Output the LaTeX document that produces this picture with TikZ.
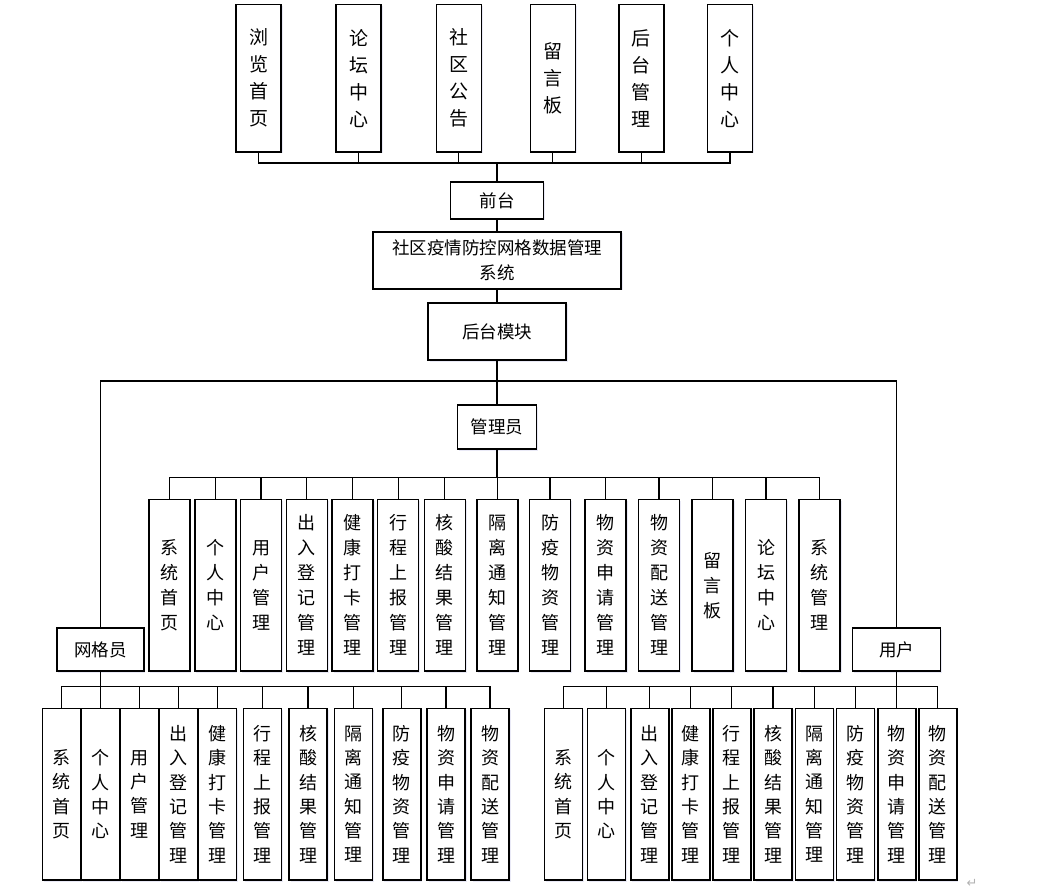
\documentclass[tikz,border=0pt]{standalone}
\usepackage{fontspec}
\setmainfont{Noto Sans CJK SC}
\newfontfamily\symfont{DejaVu Sans}
\usetikzlibrary{shadows}

\tikzset{
  box/.style={draw, line width=1.4pt, fill=white, inner sep=0pt, align=center,
    drop shadow={shadow xshift=1.5pt, shadow yshift=-1.5pt, opacity=0.12, fill=blue!40!gray},
    font=\fontsize{17.5}{24.5}\selectfont},
  topbox/.style={box, minimum width=45pt, minimum height=147.5pt, font=\fontsize{19}{27}\selectfont},
  adbox/.style={box, minimum width=41pt, minimum height=171.7pt, font=\fontsize{18}{25}\selectfont},
  subbox/.style={box, minimum width=38pt, minimum height=171.7pt, font=\fontsize{18}{24.3}\selectfont},
  link/.style={line width=1.3pt}
}

\begin{document}
\begin{tikzpicture}[x=1pt, y=-1pt]
  \useasboundingbox (0,0) rectangle (1043,890);

  % front end pages
  \foreach \x/\txt [count=\i] in {258.5/{浏\\览\\首\\页}, 358.5/{论\\坛\\中\\心},
      458.8/{社\\区\\公\\告}, 552.8/{留\\言\\板}, 641.3/{后\\台\\管\\理}, 730/{个\\人\\中\\心}} {
    \node[topbox] (t\i) at (\x,78.2) {\txt};
  }
  \node[box, minimum width=93pt, minimum height=37pt] (qt) at (497,200.5) {前台};
  \coordinate (busT) at (497,163);
  \foreach \i in {1,...,6} {
    \draw[link] (t\i.south) |- (busT);
  }
  \draw[link] (busT) -- (qt.north);

  % system and back end
  \node[box, minimum width=248pt, minimum height=57pt] (sys) at (497,260.5) {社区疫情防控网格数据管理\\系统};
  \node[box, minimum width=138pt, minimum height=57pt] (ht) at (497,331.5) {后台模块};
  \draw[link] (qt) -- (sys);
  \draw[link] (sys) -- (ht);

  % roles
  \node[box, minimum width=79pt, minimum height=44pt] (gly) at (497,427) {管理员};
  \node[box, minimum width=87pt, minimum height=43pt] (wgy) at (100.3,649.5) {网格员};
  \node[box, minimum width=88pt, minimum height=43pt] (yh) at (896.7,649.5) {用户};
  \coordinate (busM) at (497,381);
  \draw[link] (ht.south) -- (busM);
  \draw[link] (busM) -| (wgy.north);
  \draw[link] (busM) -| (yh.north);
  \draw[link] (busM) -- (gly.north);

  % administrator functions
  \coordinate (busA) at (497,477.7);
  \draw[link] (gly.south) -- (busA);
  \foreach \x/\txt [count=\i] in {169.4/{系\\统\\首\\页}, 215.4/{个\\人\\中\\心}, 261/{用\\户\\管\\理},
      306.8/{出\\入\\登\\记\\管\\理}, 352.6/{健\\康\\打\\卡\\管\\理}, 398.2/{行\\程\\上\\报\\管\\理},
      444.8/{核\\酸\\结\\果\\管\\理}, 497.4/{隔\\离\\通\\知\\管\\理}, 550/{防\\疫\\物\\资\\管\\理},
      605.6/{物\\资\\申\\请\\管\\理}, 659/{物\\资\\配\\送\\管\\理}, 712.6/{留\\言\\板},
      766/{论\\坛\\中\\心}, 819.6/{系\\统\\管\\理}} {
    \node[adbox] (a\i) at (\x,585.2) {\txt};
    \draw[link] (a\i.north) |- (busA);
  }

  % grid worker functions
  \coordinate (busW) at (100.3,686.7);
  \draw[link] (wgy.south) -- (busW);
  \foreach \x/\txt [count=\i] in {61.4/{系\\统\\首\\页}, 100.3/{个\\人\\中\\心}, 139.2/{用\\户\\管\\理},
      178.2/{出\\入\\登\\记\\管\\理}, 217.2/{健\\康\\打\\卡\\管\\理}, 262.3/{行\\程\\上\\报\\管\\理},
      308/{核\\酸\\结\\果\\管\\理}, 353.7/{隔\\离\\通\\知\\管\\理}, 401.8/{防\\疫\\物\\资\\管\\理},
      446/{物\\资\\申\\请\\管\\理}, 490/{物\\资\\配\\送\\管\\理}} {
    \node[subbox] (w\i) at (\x,794.2) {\txt};
    \draw[link] (w\i.north) |- (busW);
  }

  % user functions
  \coordinate (busU) at (896.7,686.7);
  \draw[link] (yh.south) -- (busU);
  \foreach \x/\txt [count=\i] in {563.3/{系\\统\\首\\页}, 606.7/{个\\人\\中\\心},
      649.8/{出\\入\\登\\记\\管\\理}, 690.8/{健\\康\\打\\卡\\管\\理}, 731.8/{行\\程\\上\\报\\管\\理},
      773/{核\\酸\\结\\果\\管\\理}, 814.2/{隔\\离\\通\\知\\管\\理}, 855.3/{防\\疫\\物\\资\\管\\理},
      896.8/{物\\资\\申\\请\\管\\理}, 937.8/{物\\资\\配\\送\\管\\理}} {
    \node[subbox] (u\i) at (\x,794.2) {\txt};
    \draw[link] (u\i.north) |- (busU);
  }

  \node[text=gray!60, font=\symfont\fontsize{13}{13}\selectfont] (ret) at (972,883) {↵};
\end{tikzpicture}
\end{document}
